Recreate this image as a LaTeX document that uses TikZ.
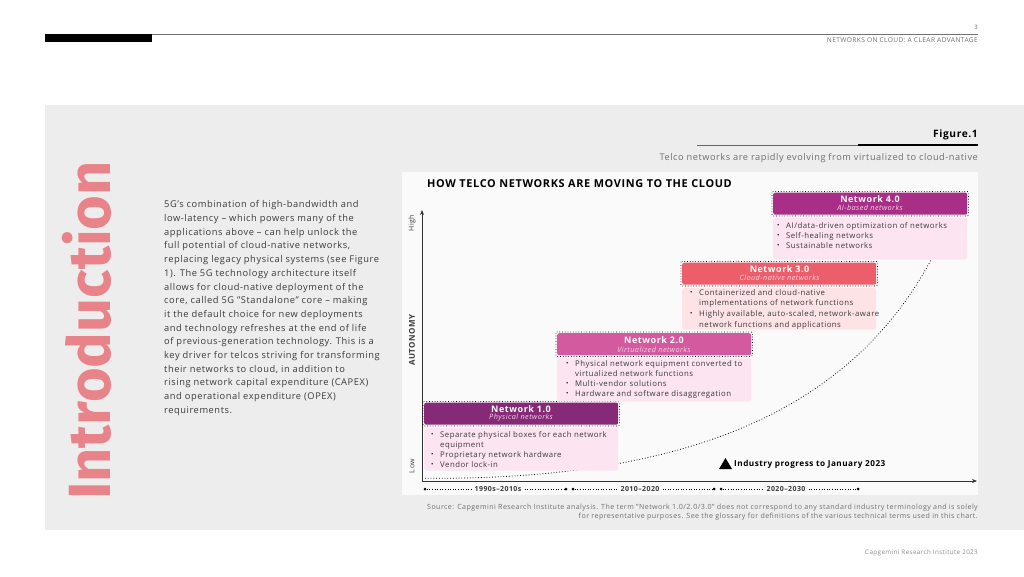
\documentclass[tikz,border=0pt]{standalone}
\usepackage{fontspec}
\setmainfont{Open Sans}[LetterSpace=6]
\newfontfamily\introfont{Fira Sans}
\usetikzlibrary{arrows.meta}
\definecolor{panel}{HTML}{EDEDED}
\definecolor{chartbg}{HTML}{FAFAFA}
\definecolor{nA}{HTML}{862A78}
\definecolor{nB}{HTML}{D35A9F}
\definecolor{nC}{HTML}{EC5E6A}
\definecolor{nD}{HTML}{A92E88}
\definecolor{bodyA}{HTML}{FCE4F0}
\definecolor{bodyC}{HTML}{FDE3E6}
\definecolor{intro}{HTML}{E8838A}
\definecolor{txt}{HTML}{3A3A3A}
\definecolor{subtxt}{HTML}{F5D3E8}
\definecolor{greytxt}{HTML}{6E6E6E}
\newcommand{\bul}{\makebox[9pt][l]{\raisebox{0.2ex}{\scalebox{0.8}{\color{black}\textbullet}}}}
\newcommand{\ind}{\hspace*{9pt}}
\tikzset{
  hdrbox/.style={rectangle, rounded corners=2pt, minimum width=194pt, minimum height=22pt, inner sep=0pt},
  hdrframe/.style={draw=black, dotted, line width=0.7pt, rounded corners=1pt},
  bodybox/.style={rectangle, rounded corners=3pt, minimum width=194pt, inner sep=0pt},
  hdrtitle/.style={text=white, font=\fontsize{9}{11}\selectfont\bfseries, inner sep=0pt},
  hdrsub/.style={text=subtxt, font=\fontsize{7.3}{9}\selectfont\itshape, inner sep=0pt},
  bultext/.style={text=txt, font=\fontsize{7.8}{10}\selectfont, align=left, anchor=north west, inner sep=0pt},
  tdot/.style={circle, fill=black, inner sep=0pt, minimum size=3pt},
  tlabel/.style={font=\fontsize{7}{9}\selectfont\bfseries, text=txt, fill=chartbg, inner xsep=3pt, inner ysep=1pt},
  tline/.style={dotted, line width=0.6pt, black},
  axis/.style={line width=0.8pt, black!80, -{Stealth[length=5pt,width=4pt]}},
  axlabel/.style={font=\fontsize{7}{9}\selectfont, text=txt, rotate=90, inner sep=0pt},
}
\begin{document}
\begin{tikzpicture}[x=1pt,y=-1pt]
\useasboundingbox (0,0) rectangle (1024,576);
\fill[white] (0,0) rectangle (1024,576);
% page header
\fill[black] (45,34) rectangle (152,42);
\draw[black!55, line width=0.6pt] (152,34.3) -- (978,34.3);
\node[anchor=east, inner sep=0pt, font=\fontsize{6}{7}\selectfont, text=greytxt] (pnum) at (978,27) {3};
\node[anchor=east, inner sep=0pt, font=\fontsize{6.6}{7}\selectfont, text=greytxt] (runhead) at (978,40) {NETWORKS ON CLOUD: A CLEAR ADVANTAGE};
% grey panel
\fill[panel] (45,105) rectangle (1024,530);
% Introduction
\node[rotate=90, anchor=base west, inner sep=0pt, text=intro, font=\introfont\fontsize{59.5}{60}\selectfont\bfseries] (introtitle) at (110,500) {Introduction};
% paragraph
\node[anchor=north west, inner sep=0pt, align=left, text=txt, font=\fontsize{9.3}{13.7}\selectfont] (para) at (164,200.5) {%
5G's combination of high-bandwidth and\\
low-latency -- which powers many of the\\
applications above -- can help unlock the\\
full potential of cloud-native networks,\\
replacing legacy physical systems (see Figure\\
1). The 5G technology architecture itself\\
allows for cloud-native deployment of the\\
core, called 5G "Standalone" core -- making\\
it the default choice for new deployments\\
and technology refreshes at the end of life\\
of previous-generation technology. This is a\\
key driver for telcos striving for transforming\\
their networks to cloud, in addition to\\
rising network capital expenditure (CAPEX)\\
and operational expenditure (OPEX)\\
requirements.};
% Figure heading
\node[anchor=east, inner sep=0pt, font=\fontsize{10.2}{12}\selectfont\bfseries, text=black] (figlabel) at (978,134.5) {Figure.1};
\draw[black!60, line width=0.8pt] (697,145) -- (858,145);
\draw[black, line width=2pt] (858,145) -- (978,145);
\node[anchor=east, inner sep=0pt, font=\fontsize{9.2}{12}\selectfont, text=greytxt] (figsub) at (978,158) {Telco networks are rapidly evolving from virtualized to cloud-native};
% chart background
\fill[chartbg] (402,172) rectangle (978,495);
\node[anchor=west, inner sep=0pt, font=\fontsize{10.9}{13}\selectfont\bfseries, text=black] (charttitle) at (427,183.5) {HOW TELCO NETWORKS ARE MOVING TO THE CLOUD};
% axes
\coordinate (ytop) at (422,210);
\coordinate (xend) at (977,481);
\draw[axis] (422,482) -- (ytop);
\draw[axis] (421.6,481) -- (xend);
\node[axlabel] (high) at (412,223) {High};
\node[axlabel] (low) at (412,466) {Low};
\node[axlabel, font=\fontsize{8}{10}\selectfont\bfseries] (autonomy) at (412,340) {AUTONOMY};
% progress curve
\coordinate (cstart) at (425,478.3);
\coordinate (cend) at (938,246);
\draw[dotted, line width=0.8pt, -{Stealth[length=5pt,width=4pt]}] (cstart) .. controls (670,480) and (852,420) .. (cend);
% Network 1.0
\node[bodybox, fill=bodyA, minimum height=43pt, anchor=north west] (b1) at (424,427.5) {};
\node[hdrbox, fill=nA, anchor=north west] (h1) at (424,402.5) {};
\draw[hdrframe] ([shift={(-1,-1)}]h1.north west) rectangle ([shift={(1,1)}]h1.south east);
\node[hdrtitle] (t1) at (521,409) {Network 1.0};
\node[hdrsub] (s1) at (521,418) {Physical networks};
\node[bultext] (l1) at (431,431) {\bul Separate physical boxes for each network\\ \ind equipment\\ \bul Proprietary network hardware\\ \bul Vendor lock-in};
% Network 2.0
\node[bodybox, fill=bodyA, minimum height=44pt, anchor=north west] (b2) at (557,357.5) {};
\node[hdrbox, fill=nB, anchor=north west] (h2) at (557,333) {};
\draw[hdrframe] ([shift={(-1,-1)}]h2.north west) rectangle ([shift={(1,1)}]h2.south east);
\node[hdrtitle] (t2) at (654,340.5) {Network 2.0};
\node[hdrsub] (s2) at (654,349.5) {Virtualized networks};
\node[bultext] (l2) at (566,360) {\bul Physical network equipment converted to\\ \ind virtualized network functions\\ \bul Multi-vendor solutions\\ \bul Hardware and software disaggregation};
% Network 3.0
\node[bodybox, fill=bodyC, minimum height=42pt, anchor=north west] (b3) at (682,287.5) {};
\node[hdrbox, fill=nC, anchor=north west] (h3) at (682,262.5) {};
\draw[hdrframe] ([shift={(-1,-1)}]h3.north west) rectangle ([shift={(1,1)}]h3.south east);
\node[hdrtitle] (t3) at (779.5,269) {Network 3.0};
\node[hdrsub] (s3) at (779.5,278) {Cloud-native networks};
\node[bultext, font=\fontsize{7.8}{10.7}\selectfont] (l3) at (690,289) {\bul Containerized and cloud-native\\ \ind implementations of network functions\\ \bul Highly available, auto-scaled, network-aware\\ \ind network functions and applications};
% Network 4.0
\node[bodybox, fill=bodyA, minimum height=42pt, anchor=north west] (b4) at (773,217.5) {};
\node[hdrbox, fill=nD, anchor=north west] (h4) at (773,192.5) {};
\draw[hdrframe] ([shift={(-1,-1)}]h4.north west) rectangle ([shift={(1,1)}]h4.south east);
\node[hdrtitle] (t4) at (870,199) {Network 4.0};
\node[hdrsub] (s4) at (870,208) {AI-based networks};
\node[bultext] (l4) at (777,222) {\bul AI/data-driven optimization of networks\\ \bul Self-healing networks\\ \bul Sustainable networks};
% industry progress
\fill[black] (719,469) -- (725.5,458) -- (732,469) -- cycle;
\node[anchor=west, inner sep=0pt, font=\fontsize{8.2}{10}\selectfont\bfseries, text=black] (progress) at (734,464) {Industry progress to January 2023};
% timeline
\node[tdot] (d1) at (425,489) {};
\node[tdot] (d2) at (566,489) {};
\node[tdot] (d3) at (573,489) {};
\node[tdot] (d4) at (714,489) {};
\node[tdot] (d5) at (721,489) {};
\node[tdot] (d6) at (858,489) {};
\node[tlabel] (p1) at (498,489) {1990s--2010s};
\node[tlabel] (p2) at (640,489) {2010--2020};
\node[tlabel] (p3) at (786,489) {2020--2030};
\draw[tline] (d1) -- (p1);
\draw[tline] (p1) -- (d2);
\draw[tline] (d3) -- (p2);
\draw[tline] (p2) -- (d4);
\draw[tline] (d5) -- (p3);
\draw[tline] (p3) -- (d6);
% source
\node[anchor=north east, inner sep=0pt, align=right, text=greytxt, font=\fontsize{7.1}{9.6}\selectfont] (source) at (978,503.5) {Source: Capgemini Research Institute analysis. The term "Network 1.0/2.0/3.0" does not correspond to any standard industry terminology and is solely\\ for representative purposes. See the glossary for definitions of the various technical terms used in this chart.};
% footer
\node[anchor=east, inner sep=0pt, font=\fontsize{6.3}{7}\selectfont, text=black!45] (footer) at (978,553) {Capgemini Research Institute 2023};
\end{tikzpicture}
\end{document}
